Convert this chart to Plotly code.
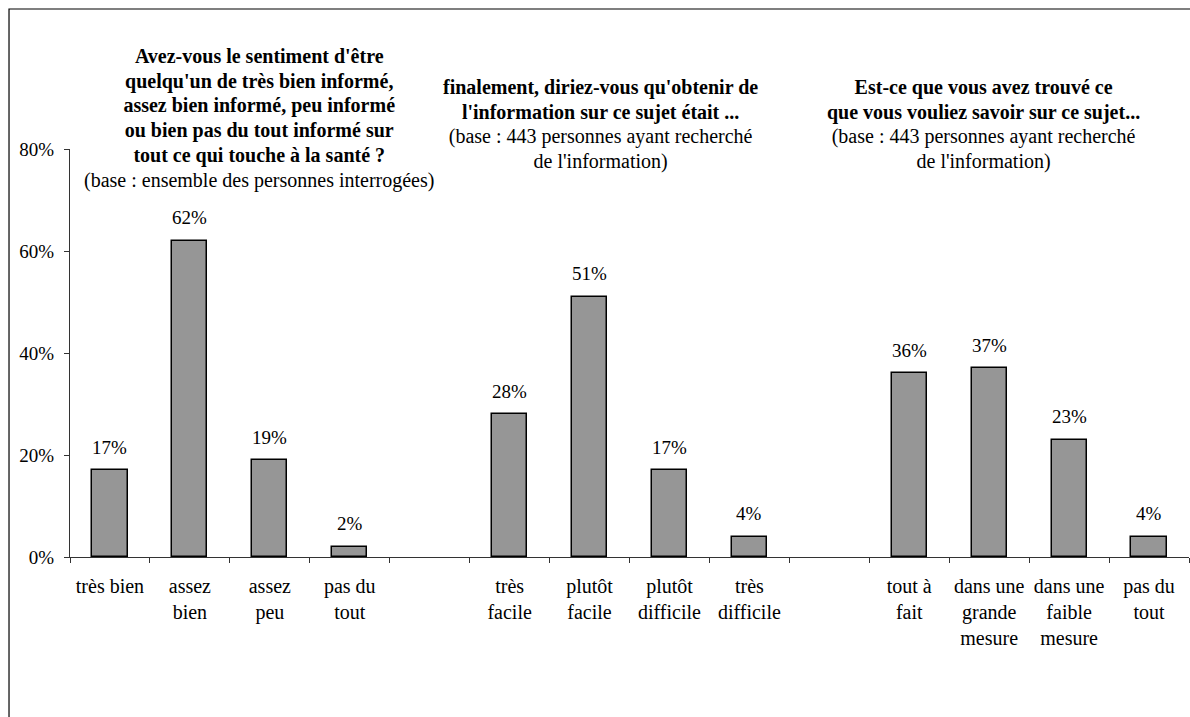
import plotly.graph_objects as go

# ---- data ----
categories = [
    "très bien", "assez<br>bien", "assez<br>peu", "pas du<br>tout",
    " ",
    "très<br>facile", "plutôt<br>facile", "plutôt<br>difficile", "très<br>difficile",
    "  ",
    "tout à<br>fait", "dans une<br>grande<br>mesure", "dans une<br>faible<br>mesure", "pas du<br>tout\u200b",
]
values = [17, 62, 19, 2, None, 28, 51, 17, 4, None, 36, 37, 23, 4]

y_ticks = [0, 20, 40, 60, 80]

title_bold = [
    ["Avez-vous le sentiment d'être", "quelqu'un de très bien informé,", "assez bien informé, peu informé",
     "ou bien pas du tout informé sur", "tout ce qui touche à la santé ?"],
    ["finalement, diriez-vous qu'obtenir de", "l'information sur ce sujet était ..."],
    ["Est-ce que vous avez trouvé ce", "que vous vouliez savoir sur ce sujet..."],
]
title_base = [
    ["(base : ensemble des personnes interrogées)"],
    ["(base : 443 personnes ayant recherché", "de l'information)"],
    ["(base : 443 personnes ayant recherché", "de l'information)"],
]
title_x = [0.169, 0.4745, 0.8168]
title_y = [0.8897, 0.936, 0.936]

FONT = "Liberation Serif, Times New Roman, serif"

fig = go.Figure()
fig.add_trace(go.Bar(
    x=categories, y=values, width=0.44,
    marker=dict(color="#969696", line=dict(color="#000000", width=1.5)),
    hoverinfo="skip",
))

# data labels
for c, v in zip(categories, values):
    if v is None:
        continue
    fig.add_annotation(x=c, y=v, text=f"{v}%", showarrow=False,
                       yanchor="middle", yshift=23,
                       font=dict(family=FONT, size=19, color="#000"))

# titles
for bl, bs, tx, ty in zip(title_bold, title_base, title_x, title_y):
    text = "<br>".join(f"<span style='font-size:20px'><b>{l}</b></span>" for l in bl)
    text += "<br>" + "<br>".join(f"<span style='font-size:20px'>{l}</span>" for l in bs)
    fig.add_annotation(x=tx, y=ty, xref="paper", yref="paper", text=text,
                       showarrow=False, xanchor="center", yanchor="bottom",
                       align="center", font=dict(family=FONT, size=19, color="#000"))

# outer frame
fig.add_shape(type="rect", xref="paper", yref="paper",
              x0=-0.0545, x1=1.2, y0=-1.0, y1=1.3431,
              line=dict(color="#000", width=1.2), fillcolor="rgba(0,0,0,0)")

fig.update_layout(
    width=1190, height=717,
    margin=dict(l=70, r=1, t=149, b=160),
    paper_bgcolor="white", plot_bgcolor="white",
    showlegend=False, bargap=0,
    font=dict(family=FONT, size=20, color="#000"),
)
fig.update_xaxes(
    type="category", categoryorder="array", categoryarray=categories,
    tickson="boundaries", ticks="outside", ticklen=5, tickcolor="#333",
    showline=True, linecolor="#333", linewidth=1,
    showgrid=False, automargin=False, ticklabelstandoff=11,
    tickfont=dict(family=FONT, size=20, color="#000"),
)
fig.update_yaxes(
    range=[0, 80], tickvals=y_ticks, ticktext=[f"{v}%" for v in y_ticks],
    ticks="outside", ticklen=5, tickcolor="#333",
    showline=True, linecolor="#333", linewidth=1,
    showgrid=False, zeroline=False, automargin=False, ticklabelstandoff=6,
    tickfont=dict(family=FONT, size=19, color="#000"),
)

fig.write_html("out.html", config={"displayModeBar": False},
               post_script="document.body.style.margin='0';")
